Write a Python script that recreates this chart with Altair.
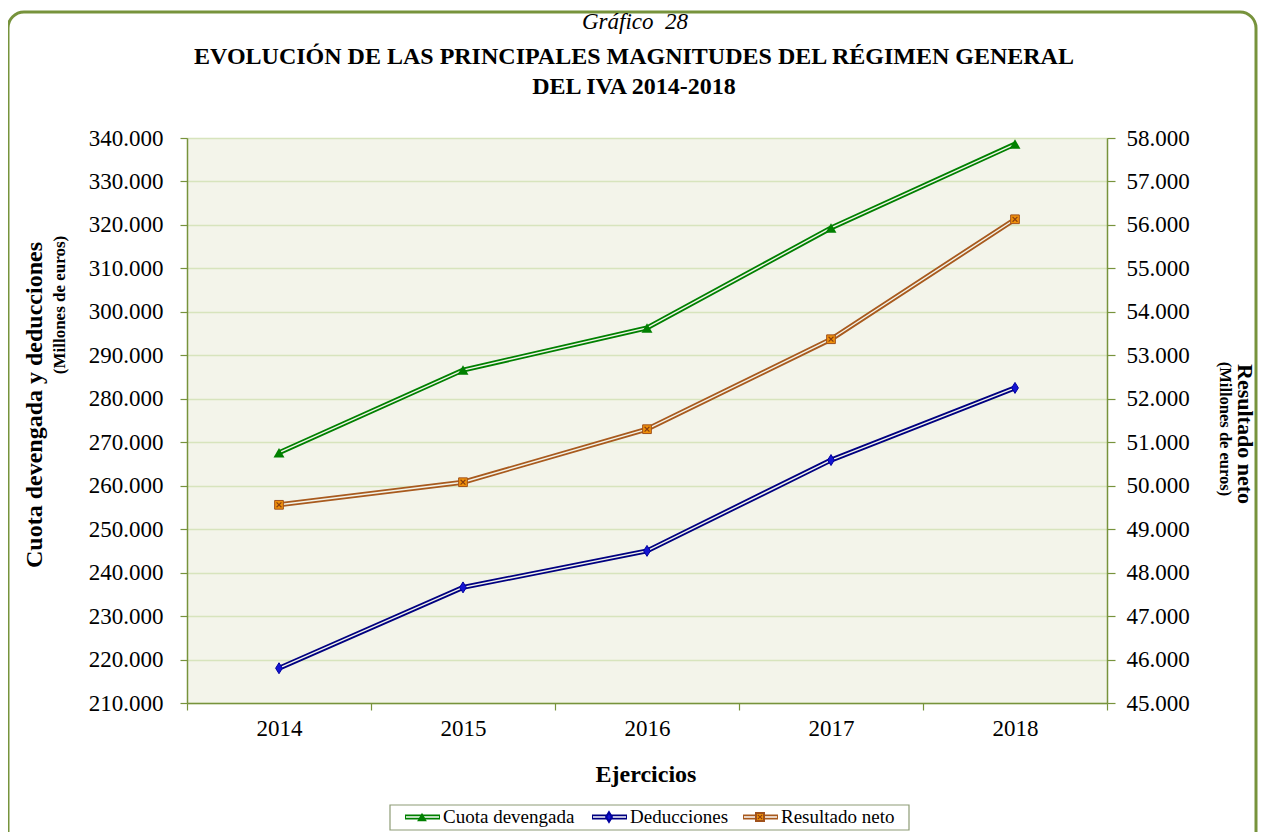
import altair as alt
import pandas as pd

# ---------------- data ----------------
years = ["2014", "2015", "2016", "2017", "2018"]
cuota_devengada = [267600, 286600, 296300, 319300, 338600]
deducciones = [218000, 236600, 245000, 265900, 282500]
resultado_neto = [49560, 50080, 51300, 53370, 56130]

series_names = ["Cuota devengada", "Deducciones", "Resultado neto"]
left_ticks = list(range(210000, 340001, 10000))
right_ticks = list(range(45000, 58001, 1000))

title_top = "Gráfico\u00a0\u00a028"
title_l1 = "EVOLUCIÓN DE LAS PRINCIPALES MAGNITUDES DEL RÉGIMEN GENERAL"
title_l2 = "DEL IVA 2014-2018"
x_title = "Ejercicios"
left_title = "Cuota devengada y deducciones"
right_title = "Resultado neto"
unit_title = "(Millones de euros)"

# ---------------- styles ----------------
FONT = "Liberation Serif"
GREEN_AX = "#77933C"
GRID = "#D7E4BD"
PLOT_BG = "#F3F4EA"
line_colors = ["#008000", "#000080", "#A85A1E"]
marker_fill = ["#008000", "#1414D2", "#F0900A"]
DIAMOND = "M0,-1L0.62,0L0,1L-0.62,0Z"
XCROSS = "M-0.75,-0.75L0.75,0.75M-0.75,0.75L0.75,-0.75"
W, H = 920, 565

left_df = pd.DataFrame({
    "year": years * 2,
    "value": cuota_devengada + deducciones,
    "serie": [series_names[0]] * len(years) + [series_names[1]] * len(years),
})
right_df = pd.DataFrame({"year": years, "value": resultado_neto, "serie": series_names[2]})

label_expr = "replace(format(datum.value, ','), ',', '.')"

x_enc = alt.X(
    "year:N",
    bandPosition=0.5,
    scale=alt.Scale(type="band", domain=years, paddingInner=0, paddingOuter=0),
    axis=alt.Axis(
        title=None, labelAngle=0, tickBand="extent", grid=False,
        labelFont=FONT, labelFontSize=23, labelColor="black", labelPadding=7,
        domainColor=GREEN_AX, domainWidth=1.5, tickColor=GREEN_AX, tickWidth=1.2, tickSize=7,
    ),
)

color_scale = alt.Scale(domain=series_names, range=line_colors)

y_left = alt.Y(
    "value:Q",
    scale=alt.Scale(domain=[210000, 340000], nice=False, zero=False),
    axis=alt.Axis(
        orient="left", title=None, values=left_ticks, labelExpr=label_expr,
        labelFont=FONT, labelFontSize=23, labelColor="black", labelPadding=17,
        domainColor=GREEN_AX, domainWidth=1.5, tickColor=GREEN_AX, tickWidth=1.2, tickSize=7,
        grid=True, gridColor=GRID, gridWidth=1.6,
    ),
)
y_right = alt.Y(
    "value:Q",
    scale=alt.Scale(domain=[45000, 58000], nice=False, zero=False),
    axis=alt.Axis(
        orient="right", title=None, values=right_ticks, labelExpr=label_expr,
        labelFont=FONT, labelFontSize=23, labelColor="black", labelPadding=11,
        domainColor=GREEN_AX, domainWidth=1.5, tickColor=GREEN_AX, tickWidth=1.2, tickSize=8,
        grid=False,
    ),
)


def series_layers(df, y_enc):
    base = alt.Chart(df)
    outer = base.mark_line(strokeWidth=5).encode(
        x=x_enc, y=y_enc,
        color=alt.Color("serie:N", scale=color_scale, legend=None),
    )
    inner = base.mark_line(strokeWidth=1.4, color=PLOT_BG).encode(
        x=x_enc, y=y_enc, detail="serie:N",
    )
    return [outer, inner]


left_lines = series_layers(left_df, y_left)
left_pts_tri = alt.Chart(left_df).transform_filter(
    alt.datum.serie == series_names[0]
).mark_point(shape="triangle-up", filled=True, size=120, color=marker_fill[0], opacity=1).encode(x=x_enc, y=y_left)
left_pts_dia = alt.Chart(left_df).transform_filter(
    alt.datum.serie == series_names[1]
).mark_point(shape=DIAMOND, filled=True, size=120, color=marker_fill[1],
             stroke="#0000A0", strokeWidth=1, opacity=1).encode(x=x_enc, y=y_left)
left_layer = alt.layer(*left_lines, left_pts_tri, left_pts_dia)

right_lines = series_layers(right_df, y_right)
right_sq = alt.Chart(right_df).mark_point(
    shape="square", filled=True, size=76, fill=marker_fill[2], stroke="#A0521C", strokeWidth=1, opacity=1
).encode(x=x_enc, y=y_right)
right_x = alt.Chart(right_df).mark_point(
    shape=XCROSS, filled=False, size=42, stroke="#8A4010", strokeWidth=1.2, opacity=1
).encode(x=x_enc, y=y_right)
right_layer = alt.layer(*right_lines, right_sq, right_x)

one = alt.Data(values=[{"k": 0}])


def txt(text, x, y, size, weight="normal", style="normal", angle=0, align="center", color="black"):
    return alt.Chart(one).mark_text(
        font=FONT, fontSize=size, fontWeight=weight, fontStyle=style, angle=angle,
        align=align, baseline="middle", color=color,
    ).encode(x=alt.value(x), y=alt.value(y), text=alt.value(text))


frame = alt.Chart(one).mark_rect(
    filled=False, stroke=GREEN_AX, strokeWidth=3, cornerRadius=16
).encode(x=alt.value(-179), x2=alt.value(1069), y=alt.value(-126), y2=alt.value(712))

texts = [
    txt(title_top, 448, -116, 23, style="italic"),
    txt(title_l1, 447, -81, 24, weight="bold"),
    txt(title_l2, 447, -51, 24, weight="bold"),
    txt(x_title, 459, 637, 24, weight="bold"),
    txt(left_title, -152, 267, 24, weight="bold", angle=270),
    txt(unit_title, -127, 167, 17, weight="bold", angle=270),
    txt(right_title, 1058, 296, 22, weight="bold", angle=90),
    txt(unit_title, 1038, 291, 16.5, weight="bold", angle=90),
]

# legend
legend_box = alt.Chart(one).mark_rect(fill="white", stroke="#8E9C76", strokeWidth=1.2).encode(
    x=alt.value(203), x2=alt.value(722), y=alt.value(667), y2=alt.value(692)
)
legend_layers = [legend_box]
leg_x = [218, 405, 556]
leg_y = 679
for i, name in enumerate(series_names):
    x0 = leg_x[i]
    legend_layers.append(alt.Chart(one).mark_rule(strokeWidth=5, color=line_colors[i]).encode(
        x=alt.value(x0), x2=alt.value(x0 + 35), y=alt.value(leg_y)))
    legend_layers.append(alt.Chart(one).mark_rule(strokeWidth=1.4, color="white").encode(
        x=alt.value(x0 + 1), x2=alt.value(x0 + 34), y=alt.value(leg_y)))
    if i == 0:
        legend_layers.append(alt.Chart(one).mark_point(
            shape="triangle-up", filled=True, size=95, color=marker_fill[0], opacity=1
        ).encode(x=alt.value(x0 + 17), y=alt.value(leg_y)))
    elif i == 1:
        legend_layers.append(alt.Chart(one).mark_point(
            shape=DIAMOND, filled=True, size=90, color=marker_fill[1], stroke="#0000A0", opacity=1
        ).encode(x=alt.value(x0 + 17), y=alt.value(leg_y)))
    else:
        legend_layers.append(alt.Chart(one).mark_point(
            shape="square", filled=True, size=64, fill=marker_fill[2], stroke="#A0521C", opacity=1
        ).encode(x=alt.value(x0 + 17), y=alt.value(leg_y)))
        legend_layers.append(alt.Chart(one).mark_point(
            shape=XCROSS, filled=False, size=34, stroke="#8A4010", strokeWidth=1.1, opacity=1
        ).encode(x=alt.value(x0 + 17), y=alt.value(leg_y)))
    legend_layers.append(txt(name, x0 + 38, leg_y, 19, align="left"))

chart = alt.layer(
    left_layer, right_layer, frame, *texts, *legend_layers
).resolve_scale(
    y="independent"
).properties(
    width=W, height=H,
    padding={"left": 179, "top": 130, "right": 151, "bottom": 129},
    autosize=alt.AutoSizeParams(type="none"),
).configure(
    font=FONT
).configure_view(
    fill=PLOT_BG, stroke="#A9BC7A", strokeWidth=1
)

chart.save("out.html", embed_options={"renderer": "svg", "actions": False})
